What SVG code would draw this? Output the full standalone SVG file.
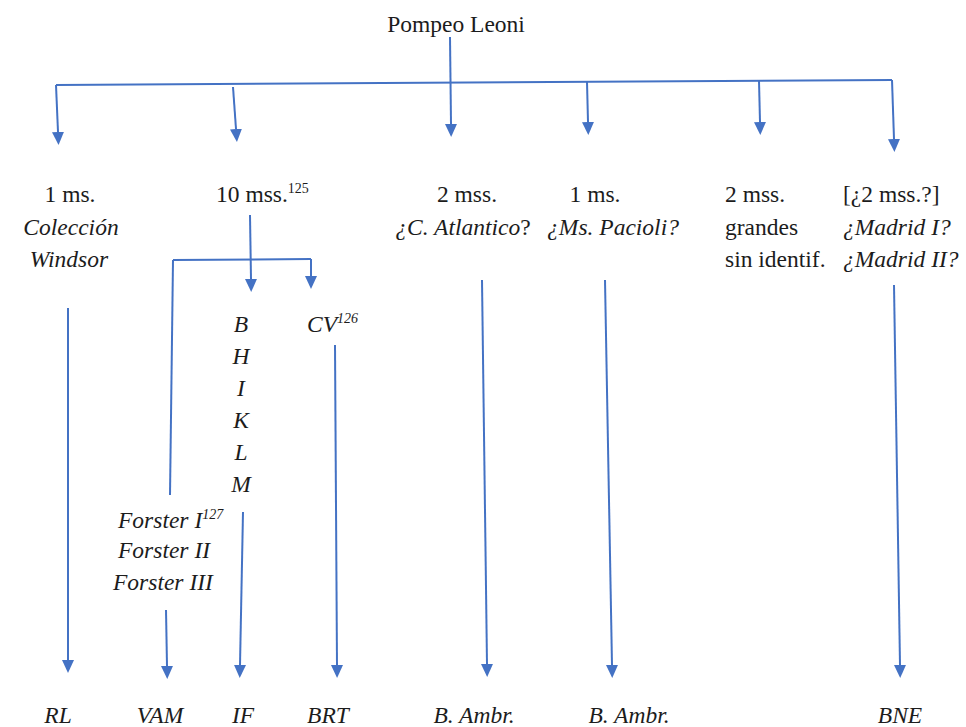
<svg xmlns="http://www.w3.org/2000/svg" width="966" height="727" viewBox="0 0 966 727">
<defs>
<style>
text{font-family:"Liberation Serif","Times New Roman",serif;font-size:23.5px;fill:#1c1c1c}
.i{font-style:italic}
.m{text-anchor:middle}
.sup{font-size:14px}
.c{fill:none;stroke:#4472C4;stroke-width:2}
.a{marker-end:url(#arr)}
</style>
<marker id="arr" markerUnits="userSpaceOnUse" markerWidth="14" markerHeight="14" viewBox="0 -7 14 14" refX="0" refY="0" orient="auto">
<path d="M0,-6 L13,0 L0,6 z" fill="#4472C4"/>
</marker>
</defs>
<rect width="966" height="727" fill="#ffffff"/>

<g id="connectors">
<path class="c" d="M56,85 L892,80"/>
<path class="c a" d="M56,85 L58,132"/>
<path class="c a" d="M233,87 L236,129"/>
<path class="c a" d="M450,37 L451,124"/>
<path class="c a" d="M587,82 L588,122"/>
<path class="c a" d="M759,81 L760,122"/>
<path class="c a" d="M892,80 L894,139"/>
<path class="c a" d="M250,215 L251,279"/>
<path class="c" d="M173,260 L311,259"/>
<path class="c a" d="M311,259 L311,276"/>
<path class="c" d="M173,260 L170,495"/>
<path class="c a" d="M68,308 L68,660"/>
<path class="c a" d="M166,610 L167,666"/>
<path class="c a" d="M243,512 L240,665"/>
<path class="c a" d="M335,345 L337,665"/>
<path class="c a" d="M482,280 L487,664"/>
<path class="c a" d="M605,280 L612,665"/>
<path class="c a" d="M894,285 L900,665"/>
</g>

<g id="root"><text class="m" x="456" y="32">Pompeo Leoni</text></g>

<g id="n1">
<text class="m" x="70" y="202">1 ms.</text>
<text class="m i" x="71" y="235">Colección</text>
<text class="m i" x="69" y="267">Windsor</text>
</g>

<g id="n2"><text x="216" y="202">10 mss.<tspan class="sup" dy="-9">125</tspan></text></g>

<g id="n3">
<text class="m" x="467" y="202">2 mss.</text>
<text class="m" x="463" y="235"><tspan class="i">¿C. Atlantico</tspan>?</text>
</g>

<g id="n4">
<text class="m" x="595" y="202">1 ms.</text>
<text class="m i" x="613" y="235">¿Ms. Pacioli?</text>
</g>

<g id="n5">
<text x="725" y="202">2 mss.</text>
<text x="725" y="235">grandes</text>
<text x="725" y="267">sin identif.</text>
</g>

<g id="n6">
<text x="843" y="202">[¿2 mss.?]</text>
<text class="i" x="843" y="235">¿Madrid I?</text>
<text class="i" x="843" y="267">¿Madrid II?</text>
</g>

<g id="n7">
<text class="m i" x="241" y="332">B</text>
<text class="m i" x="241" y="364">H</text>
<text class="m i" x="241" y="396">I</text>
<text class="m i" x="241" y="428">K</text>
<text class="m i" x="241" y="460">L</text>
<text class="m i" x="241" y="492">M</text>
</g>

<g id="n8"><text class="i" x="307" y="332">CV<tspan class="sup" dy="-9">126</tspan></text></g>

<g id="n9">
<text class="i" x="118" y="528">Forster I<tspan class="sup" dy="-9">127</tspan></text>
<text class="i" x="118" y="558">Forster II</text>
<text class="i" x="113" y="590">Forster III</text>
</g>

<g id="b1"><text class="m i" x="58" y="723">RL</text></g>
<g id="b2"><text class="m i" x="160" y="723">VAM</text></g>
<g id="b3"><text class="m i" x="243" y="723">IF</text></g>
<g id="b4"><text class="m i" x="328" y="723">BRT</text></g>
<g id="b5"><text class="m i" x="474" y="723">B. Ambr.</text></g>
<g id="b6"><text class="m i" x="629" y="723">B. Ambr.</text></g>
<g id="b7"><text class="m i" x="900" y="723">BNE</text></g>
</svg>
